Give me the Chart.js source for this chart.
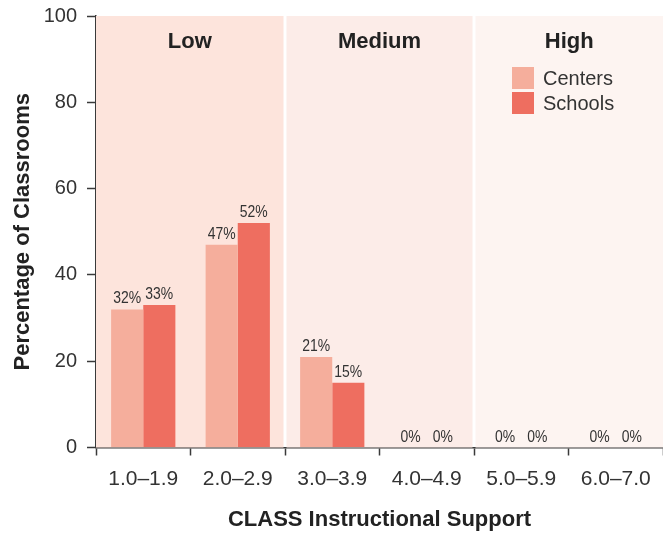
<!DOCTYPE html>
<html>
<head>
<meta charset="utf-8">
<script src="https://cdn.jsdelivr.net/npm/chart.js@4/dist/chart.umd.min.js"></script>
<style>
  html, body { margin: 0; padding: 0; background: #ffffff; }
  #wrap { width: 663px; height: 533px; position: relative; }
</style>
</head>
<body>
<div id="wrap"><canvas id="chart" width="663" height="533"></canvas></div>
<script>
// CLASS Instructional Support score ranges
const categories = ['1.0–1.9', '2.0–2.9', '3.0–3.9', '4.0–4.9', '5.0–5.9', '6.0–7.0'];
// Percentage of classrooms in each range
const centersValues = [32, 47, 21, 0, 0, 0];
const schoolsValues = [33, 52, 15, 0, 0, 0];
const seriesNames = ['Centers', 'Schools'];
// Quality bands, each covering two score ranges
const bandNames = ['Low', 'Medium', 'High'];
const bandRanges = [[0, 1], [2, 3], [4, 5]];
const yTickValues = [0, 20, 40, 60, 80, 100];

const TEXT = '#333333';
const AXIS = '#3a3a3a';
const SANS = "'Liberation Sans', Arial, sans-serif";
const COLORS = { centers: '#f5ae9c', schools: '#ee6e60' };
const BAND_FILLS = ['#fde4dc', '#fcece8', '#fdf4f1'];

// Shaded Low / Medium / High regions behind the bars
const bandsPlugin = {
  id: 'bands',
  beforeDatasetsDraw(chart) {
    const { ctx, chartArea, scales } = chart;
    const x = scales.x, y = scales.y;
    const half = (x.getPixelForValue(1) - x.getPixelForValue(0)) / 2;
    const top = y.getPixelForValue(100);
    const bottom = y.getPixelForValue(0);
    ctx.save();
    bandRanges.forEach((r, i) => {
      let left = x.getPixelForValue(r[0]) - half;
      let right = x.getPixelForValue(r[1]) + half;
      if (i > 0) left += 1.5;
      if (i < bandRanges.length - 1) right -= 1.5;
      left = Math.max(left, chartArea.left);
      right = Math.min(right, chartArea.right);
      ctx.fillStyle = BAND_FILLS[i];
      ctx.fillRect(left, top, right - left, bottom - top);
      ctx.fillStyle = '#222222';
      ctx.font = 'bold 22px ' + SANS;
      ctx.textAlign = 'center';
      ctx.textBaseline = 'alphabetic';
      ctx.fillText(bandNames[i], (left + right) / 2, top + 32);
    });
    ctx.restore();
  }
};

// Percent labels above every bar, legend, and axis titles
const annotatePlugin = {
  id: 'annotate',
  afterDatasetsDraw(chart) {
    const { ctx, chartArea } = chart;
    ctx.save();
    ctx.fillStyle = TEXT;
    ctx.font = '17px ' + SANS;
    ctx.textAlign = 'center';
    ctx.textBaseline = 'alphabetic';
    // condensed value labels: squeeze the regular face horizontally
    const squeeze = 0.82;
    chart.data.datasets.forEach((ds, di) => {
      chart.getDatasetMeta(di).data.forEach((bar, i) => {
        ctx.save();
        ctx.translate(bar.x, bar.y - 6);
        ctx.scale(squeeze, 1);
        ctx.fillText(ds.data[i] + '%', 0, 0);
        ctx.restore();
      });
    });

    // legend
    const lx = 512, ly = 67, sw = 22, gap = 3;
    ctx.font = '20px ' + SANS;
    ctx.textAlign = 'left';
    ctx.textBaseline = 'middle';
    chart.data.datasets.forEach((ds, di) => {
      const yy = ly + di * (sw + gap);
      ctx.fillStyle = ds.backgroundColor;
      ctx.fillRect(lx, yy, sw, sw);
      ctx.fillStyle = TEXT;
      ctx.fillText(ds.label, lx + sw + 9, yy + sw / 2 + 1);
    });

    // axis titles
    ctx.fillStyle = '#222222';
    ctx.font = 'bold 22px ' + SANS;
    ctx.textAlign = 'center';
    ctx.textBaseline = 'alphabetic';
    ctx.fillText('CLASS Instructional Support', (chartArea.left + chartArea.right) / 2, 526);
    ctx.save();
    ctx.translate(29, (chartArea.top + chartArea.bottom) / 2);
    ctx.rotate(-Math.PI / 2);
    ctx.fillText('Percentage of Classrooms', 0, 0);
    ctx.restore();
    ctx.restore();
  }
};

new Chart(document.getElementById('chart'), {
  type: 'bar',
  data: {
    labels: categories,
    datasets: [
      { label: seriesNames[0], data: centersValues, backgroundColor: COLORS.centers },
      { label: seriesNames[1], data: schoolsValues, backgroundColor: COLORS.schools }
    ]
  },
  options: {
    responsive: false,
    animation: false,
    devicePixelRatio: 1,
    layout: { padding: { top: 16, right: 0, bottom: 0, left: 0 } },
    datasets: { bar: { categoryPercentage: 0.68, barPercentage: 1.0 } },
    plugins: { legend: { display: false }, tooltip: { enabled: false }, title: { display: false } },
    scales: {
      x: {
        offset: true,
        grid: { offset: true, drawOnChartArea: false, drawTicks: true, tickLength: 8, tickColor: AXIS, tickWidth: 1.5 },
        border: { display: true, color: AXIS, width: 1.5 },
        ticks: { color: TEXT, font: { family: SANS, size: 21 }, padding: 11, maxRotation: 0, autoSkip: false },
        afterFit(scale) { scale.height = 85.5; scale.paddingLeft = 0; scale.paddingRight = 0; }
      },
      y: {
        min: 0, max: 100,
        afterBuildTicks(scale) { scale.ticks = yTickValues.map(v => ({ value: v })); },
        grid: { drawOnChartArea: false, drawTicks: true, tickLength: 9, tickColor: AXIS, tickWidth: 1.5 },
        border: { display: true, color: AXIS, width: 1.5 },
        ticks: { color: TEXT, font: { family: SANS, size: 20 }, padding: 10 },
        afterFit(scale) { scale.width = 96; scale.paddingTop = 0; scale.paddingBottom = 0; }
      }
    }
  },
  plugins: [bandsPlugin, annotatePlugin]
});
</script>
</body>
</html>
